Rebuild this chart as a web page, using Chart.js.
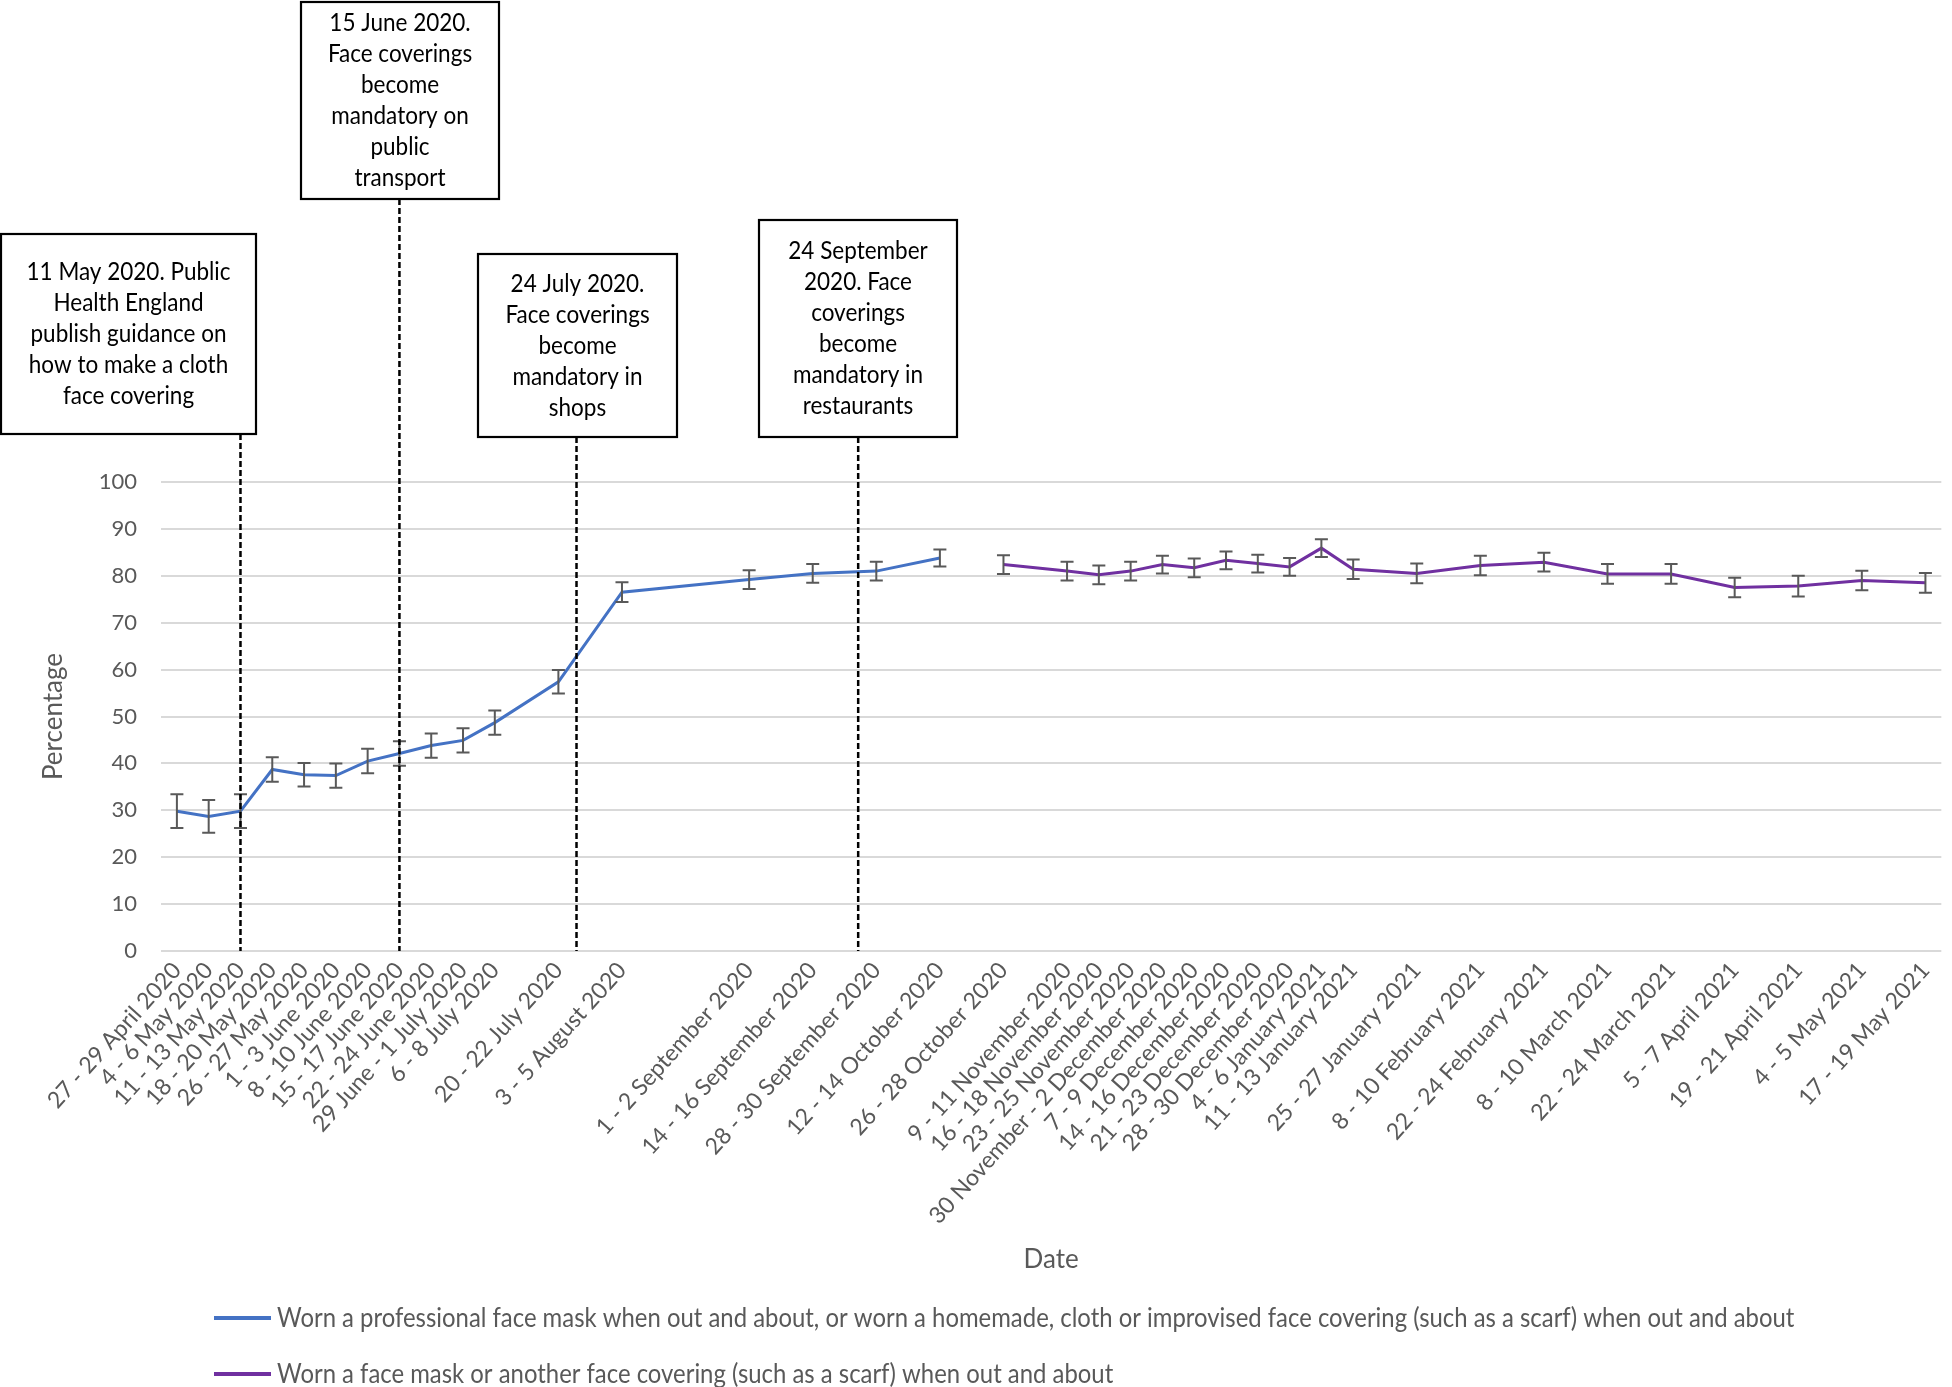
<!DOCTYPE html>
<html>
<head>
<meta charset="utf-8">
<script src="https://cdn.jsdelivr.net/npm/chart.js@4.4.1/dist/chart.umd.min.js"></script>
<style>
html,body{margin:0;padding:0;background:#fff;}
#wrap{width:1952px;height:1387px;position:relative;}
canvas{display:block;}
</style>
</head>
<body>
<div id="wrap"><canvas id="c" width="1952" height="1387"></canvas></div>
<script>
// ---- Data (weekly slots; "" = week with no survey) ----
const categories = [
  "27 - 29 April 2020","4 - 6 May 2020","11 - 13 May 2020","18 - 20 May 2020","26 - 27 May 2020",
  "1 - 3 June 2020","8 - 10 June 2020","15 - 17 June 2020","22 - 24 June 2020","29 June - 1 July 2020",
  "6 - 8 July 2020","","20 - 22 July 2020","","3 - 5 August 2020","","","",
  "1 - 2 September 2020","","14 - 16 September 2020","","28 - 30 September 2020","",
  "12 - 14 October 2020","","26 - 28 October 2020","","9 - 11 November 2020","16 - 18 November 2020",
  "23 - 25 November 2020","30 November - 2 December 2020","7 - 9 December 2020","14 - 16 December 2020",
  "21 - 23 December 2020","28 - 30 December 2020","4 - 6 January 2021","11 - 13 January 2021","",
  "25 - 27 January 2021","","8 - 10 February 2021","","22 - 24 February 2021","","8 - 10 March 2021","",
  "22 - 24 March 2021","","5 - 7 April 2021","","19 - 21 April 2021","","4 - 5 May 2021","","17 - 19 May 2021"
];

const blueValues = [
  29.8, 28.7, 29.8, 38.7, 37.6, 37.4, 40.5, 42.1, 43.8, 44.9,
  48.7, null, 57.4, null, 76.5, null, null, null, 79.2, null,
  80.5, null, 81.0, null, 83.8, null, null, null, null, null,
  null, null, null, null, null, null, null, null, null, null,
  null, null, null, null, null, null, null, null, null, null,
  null, null, null, null, null, null
];
const blueErrors = [
  3.6, 3.5, 3.6, 2.6, 2.5, 2.6, 2.6, 2.6, 2.6, 2.6,
  2.6, null, 2.5, null, 2.1, null, null, null, 2.0, null,
  2.0, null, 2.0, null, 1.8, null, null, null, null, null,
  null, null, null, null, null, null, null, null, null, null,
  null, null, null, null, null, null, null, null, null, null,
  null, null, null, null, null, null
];
const purpleValues = [
  null, null, null, null, null, null, null, null, null, null,
  null, null, null, null, null, null, null, null, null, null,
  null, null, null, null, null, null, 82.4, null, 81.0, 80.2,
  81.0, 82.4, 81.7, 83.3, 82.6, 81.9, 85.9, 81.4, null, 80.5,
  null, 82.2, null, 82.9, null, 80.4, null, 80.4, null, 77.5,
  null, 77.8, null, 79.0, null, 78.5
];
const purpleErrors = [
  null, null, null, null, null, null, null, null, null, null,
  null, null, null, null, null, null, null, null, null, null,
  null, null, null, null, null, null, 2.0, null, 2.0, 2.0,
  2.0, 1.9, 2.0, 1.9, 1.9, 1.9, 1.9, 2.1, null, 2.1,
  null, 2.1, null, 2.0, null, 2.1, null, 2.1, null, 2.1,
  null, 2.2, null, 2.1, null, 2.1
];
const seriesNames = [
  "Worn a professional face mask when out and about, or worn a homemade, cloth or improvised face covering (such as a scarf) when out and about",
  "Worn a face mask or another face covering (such as a scarf) when out and about"
];
const yMin = 0, yMax = 100, yStep = 10;

// Policy events: position on the weekly axis (fractional slot) and text
const eventPositions = [2, 7, 12.57, 21.43];
const eventTexts = [
  ["11 May 2020. Public","Health England","publish guidance on","how to make a cloth","face covering"],
  ["15 June 2020.","Face coverings","become","mandatory on","public","transport"],
  ["24 July 2020.","Face coverings","become","mandatory in","shops"],
  ["24 September","2020. Face","coverings","become","mandatory in","restaurants"]
];

// ---- Layout of the callout boxes (pixels) ----
const boxLayout = [
  {left:1,   top:234, width:255, height:200},
  {left:301, top:2,   width:198, height:197},
  {left:478, top:254, width:199, height:183},
  {left:759, top:220, width:198, height:217}
];

const errorBarPlugin = {
  id:'errorBars',
  afterDatasetsDraw(chart){
    const {ctx} = chart; const x = chart.scales.x, y = chart.scales.y;
    ctx.save();
    ctx.strokeStyle = '#595959'; ctx.lineWidth = 2;
    chart.data.datasets.forEach(ds => {
      ds.data.forEach((v,i) => {
        if (v == null) return;
        const e = ds.errors[i];
        const px = x.getPixelForValue(i);
        const y1 = y.getPixelForValue(v + e), y2 = y.getPixelForValue(v - e);
        ctx.beginPath();
        ctx.moveTo(px, y1); ctx.lineTo(px, y2);
        ctx.moveTo(px - 6.5, y1); ctx.lineTo(px + 6.5, y1);
        ctx.moveTo(px - 6.5, y2); ctx.lineTo(px + 6.5, y2);
        ctx.stroke();
      });
    });
    ctx.restore();
  }
};

const annotationPlugin = {
  id:'events',
  afterDraw(chart){
    const {ctx, chartArea} = chart; const x = chart.scales.x;
    ctx.save();
    eventPositions.forEach((pos, k) => {
      const b = boxLayout[k];
      const lx = x.getPixelForValue(pos);
      ctx.strokeStyle = '#000'; ctx.lineWidth = 2.5; ctx.setLineDash([6,3]);
      ctx.beginPath(); ctx.moveTo(lx, b.top + b.height); ctx.lineTo(lx, chartArea.bottom); ctx.stroke();
      ctx.setLineDash([]);
      ctx.fillStyle = '#fff'; ctx.fillRect(b.left, b.top, b.width, b.height);
      ctx.lineWidth = 2.2; ctx.strokeRect(b.left, b.top, b.width, b.height);
      const lines = eventTexts[k]; const lh = 31;
      const cx = b.left + b.width/2, cy = b.top + b.height/2;
      const y0 = cy - (lines.length - 1) * lh / 2;
      ctx.fillStyle = '#000'; ctx.font = '25px Lato'; ctx.textAlign = 'center'; ctx.textBaseline = 'middle';
      lines.forEach((t, j) => {
        ctx.save(); ctx.translate(cx, y0 + j*lh); ctx.scale(0.9, 1);
        ctx.fillText(t, 0, 0); ctx.restore();
      });
    });
    // legend
    chart.data.datasets.forEach((ds, i) => {
      const ly = 1318 + i*56;
      ctx.strokeStyle = ds.borderColor; ctx.lineWidth = 4;
      ctx.beginPath(); ctx.moveTo(214, ly); ctx.lineTo(271, ly); ctx.stroke();
      ctx.fillStyle = '#595959'; ctx.font = '27px Lato'; ctx.textAlign = 'left'; ctx.textBaseline = 'middle';
      ctx.save(); ctx.translate(277, ly); ctx.scale(0.885, 1); ctx.fillText(ds.label, 0, 0); ctx.restore();
    });
    ctx.restore();
  }
};

new Chart(document.getElementById('c'), {
  type:'line',
  data:{
    labels:categories,
    datasets:[
      {label:seriesNames[0], data:blueValues, errors:blueErrors, borderColor:'#4472C4', backgroundColor:'#4472C4',
       borderWidth:3, pointRadius:0, spanGaps:true, tension:0},
      {label:seriesNames[1], data:purpleValues, errors:purpleErrors, borderColor:'#7030A0', backgroundColor:'#7030A0',
       borderWidth:3, pointRadius:0, spanGaps:true, tension:0}
    ]
  },
  options:{
    responsive:false, animation:false, devicePixelRatio:1,
    layout:{padding:{top:482, right:8, bottom:112, left:0}},
    plugins:{legend:{display:false}, tooltip:{enabled:false}},
    scales:{
      x:{
        type:'category', offset:true,
        grid:{display:false, drawTicks:false}, border:{display:false},
        ticks:{autoSkip:false, minRotation:48, maxRotation:48, padding:6, color:'#595959', font:{family:'Lato', size:23}},
        title:{display:true, text:'Date', color:'#595959', font:{family:'Lato', size:26}, padding:0},
        afterFit(s){ s.height = 324; }
      },
      y:{
        min:yMin, max:yMax,
        ticks:{stepSize:yStep, padding:24, color:'#595959', font:{family:'Lato', size:22}},
        grid:{color:'#d9d9d9', lineWidth:2, drawTicks:false}, border:{display:false},
        title:{display:true, text:'Percentage', color:'#595959', font:{family:'Lato', size:26}, padding:{top:38, bottom:0}},
        afterFit(s){ s.width = 161; }
      }
    }
  },
  plugins:[errorBarPlugin, annotationPlugin]
});
</script>
</body>
</html>
